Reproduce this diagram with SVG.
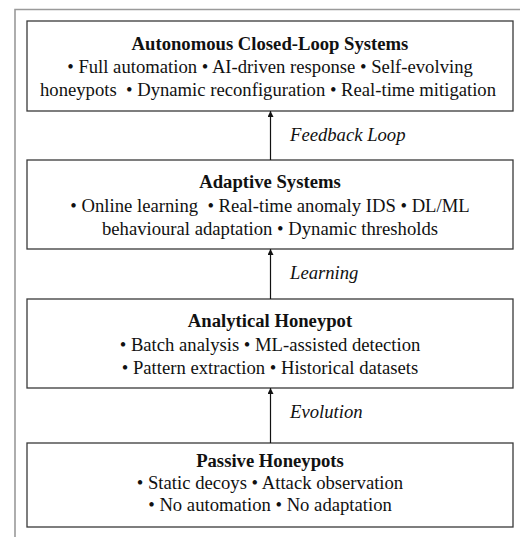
<svg xmlns="http://www.w3.org/2000/svg" width="520" height="537" viewBox="0 0 520 537">
<defs>
<style>
.frame{fill:none;stroke:#9a9a9a;stroke-width:1.6}
.box{fill:#ffffff;stroke:#3a3a3a;stroke-width:1.3}
.t{font-size:18.67px;fill:#111;text-anchor:middle;white-space:pre}
.b{font-weight:bold}
.lbl{font-size:18.67px;font-style:italic;fill:#111}
.conn{stroke:#111;stroke-width:1.2;fill:none}
</style>
<marker id="ah" viewBox="0 0 10 10" refX="10" refY="5" markerWidth="6" markerHeight="6" orient="auto" markerUnits="userSpaceOnUse">
<path d="M0,0 L10,5 L0,10 z" fill="#111"/>
</marker>
</defs>
<rect width="520" height="537" fill="#ffffff"/>
<path class="frame" d="M15,537 L15,9.5 L520,9.5"/>
<g font-family="'Liberation Serif', 'Times New Roman', serif">
<g id="autonomous">
<rect class="box" x="27" y="21" width="486" height="90"/>
<text class="t b" x="270" y="50">Autonomous Closed-Loop Systems</text>
<text class="t" x="270" y="73">• Full automation • AI-driven response • Self-evolving</text>
<text class="t" x="268" y="96">honeypots  • Dynamic reconfiguration • Real-time mitigation</text>
</g>
<g id="adaptive">
<rect class="box" x="27" y="160" width="486" height="89"/>
<text class="t b" x="270" y="188">Adaptive Systems</text>
<text class="t" x="270" y="211.5">• Online learning  • Real-time anomaly IDS • DL/ML</text>
<text class="t" x="270" y="234.5">behavioural adaptation • Dynamic thresholds</text>
</g>
<g id="analytical">
<rect class="box" x="27" y="299" width="486" height="89"/>
<text class="t b" x="270" y="327">Analytical Honeypot</text>
<text class="t" x="270" y="350.5">• Batch analysis • ML-assisted detection</text>
<text class="t" x="270" y="373.5">• Pattern extraction • Historical datasets</text>
</g>
<g id="passive">
<rect class="box" x="27" y="443" width="486" height="84"/>
<text class="t b" x="270" y="467">Passive Honeypots</text>
<text class="t" x="270" y="489">• Static decoys • Attack observation</text>
<text class="t" x="270" y="511">• No automation • No adaptation</text>
</g>
<g id="connectors">
<line class="conn" x1="270.5" y1="160" x2="270.5" y2="111" marker-end="url(#ah)"/>
<line class="conn" x1="270.5" y1="299" x2="270.5" y2="249" marker-end="url(#ah)"/>
<line class="conn" x1="270.5" y1="443" x2="270.5" y2="388" marker-end="url(#ah)"/>
<text class="lbl" x="290" y="141">Feedback Loop</text>
<text class="lbl" x="290" y="279">Learning</text>
<text class="lbl" x="290" y="418">Evolution</text>
</g>
</g>
</svg>
